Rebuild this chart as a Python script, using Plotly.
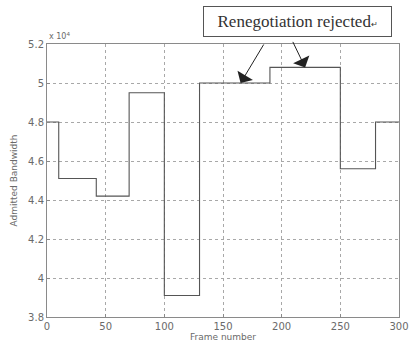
import plotly.graph_objects as go

# Admitted bandwidth per frame interval (step changes at renegotiation points)
frame_edges = [0, 10, 42, 70, 100, 130, 190, 250, 280, 300]
bandwidth = [48000, 45100, 44200, 49500, 39100, 50000, 50800, 45600, 48000]

x_ticks = [0, 50, 100, 150, 200, 250, 300]
y_ticks = [38000, 40000, 42000, 44000, 46000, 48000, 50000, 52000]
y_tick_labels = ["3.8", "4", "4.2", "4.4", "4.6", "4.8", "5", "5.2"]

# Build step-shaped polyline from interval edges
xs, ys = [], []
for i, v in enumerate(bandwidth):
    xs += [frame_edges[i], frame_edges[i + 1]]
    ys += [v, v]

grey_txt = "#6a6a6a"
grid = "#a8a8a8"
fig = go.Figure()
fig.add_trace(go.Scatter(x=xs, y=ys, mode="lines",
                         line=dict(color="#555555", width=1.1),
                         showlegend=False, hoverinfo="skip"))

fig.update_layout(
    width=419, height=351,
    margin=dict(l=47, r=10, t=44, b=34),
    plot_bgcolor="white", paper_bgcolor="white",
    font=dict(family="DejaVu Sans", size=10, color=grey_txt),
    xaxis=dict(range=[0, 300], tickvals=x_ticks, showgrid=True,
               gridcolor=grid, griddash="dot", gridwidth=1,
               showline=True, linecolor="#8a8a8a", mirror=True,
               ticks="inside", ticklen=3, tickcolor="#8a8a8a",
               zeroline=False, tickfont=dict(size=10, color=grey_txt),
               title=dict(text="Frame number", standoff=2,
                          font=dict(size=9, color=grey_txt))),
    yaxis=dict(range=[38000, 52000], tickvals=y_ticks, ticktext=y_tick_labels,
               showgrid=True, gridcolor=grid, griddash="3px,3px", gridwidth=1,
               showline=True, linecolor="#8a8a8a", mirror=True,
               ticks="inside", ticklen=3, tickcolor="#8a8a8a",
               zeroline=False, tickfont=dict(size=10, color=grey_txt),
               title=dict(text="Admitted Bandwidth", standoff=8,
                          font=dict(size=9, color=grey_txt))),
)

# Exponent marker above the y axis
fig.add_annotation(x=0, y=1.0, xref="paper", yref="paper",
                   xanchor="left", yanchor="bottom", yshift=1,
                   text="x 10<sup>4</sup>", showarrow=False,
                   font=dict(size=8, color=grey_txt))

# Callout box
fig.add_annotation(x=0.713, y=1.081, xref="paper", yref="paper",
                   xanchor="center", yanchor="middle",
                   text="  Renegotiation rejected<span style='font-size:8px'>↵</span>  ",
                   showarrow=False,
                   font=dict(family="Liberation Serif", size=17, color="#333333"),
                   bordercolor="#555555", borderwidth=1, borderpad=5,
                   bgcolor="white")

# Arrows pointing at the rejected renegotiations
arrow_style = dict(showarrow=True, arrowhead=1, arrowsize=3, arrowwidth=1,
                   arrowcolor="#222222", axref="pixel", ayref="pixel", text="")
fig.add_annotation(x=165, y=50000, ax=24, ay=-40, **arrow_style)
fig.add_annotation(x=220, y=50800, ax=-13, ay=-27, **arrow_style)

fig.write_html("out.html")
